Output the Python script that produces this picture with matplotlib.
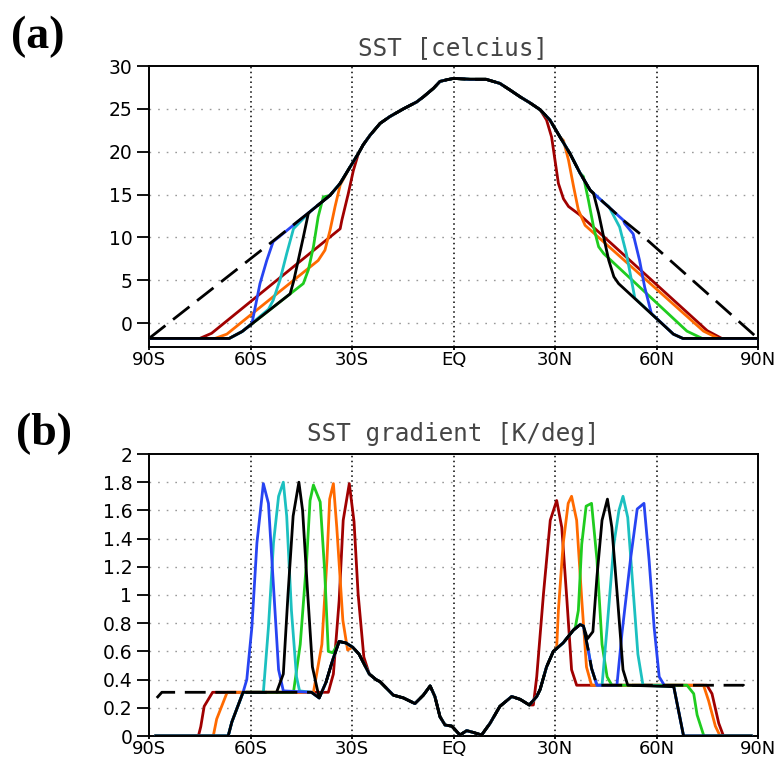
import numpy as np
import matplotlib
matplotlib.use("Agg")
import matplotlib.pyplot as plt

# ---------------- data: panel (a) SST [celcius] ----------------
env_lat = [-90, -54.2, -42.4, -36.5, -33.5, -30.6, -28.1, -26.7, -24.7, -21.7, -18.8, -14.8,
           -10.9, -8.9, -5.9, -4.0, -1.9, 0, 4.9, 9.6, 13.7, 16.7, 19.7, 22.6, 25.6, 28.5,
           31.5, 34.4, 37.4, 40.4, 44.3, 50.2, 56.1, 90]
env_sst = [-1.8, 9.3, 13.0, 14.9, 16.3, 18.2, 19.8, 20.8, 21.9, 23.3, 24.1, 25.0,
           25.8, 26.4, 27.4, 28.2, 28.4, 28.55, 28.45, 28.45, 27.97, 27.2, 26.4, 25.7, 24.9, 23.7,
           21.7, 19.8, 17.5, 15.5, 14.1, 12.0, 10.1, -1.8]

red_sh_lat = [-90, -75, -71.5, -33.5, -33.0, -31.1, -29.6, -28.1]
red_sh_sst = [-1.8, -1.8, -1.2, 11.0, 12.0, 15.1, 17.8, 19.8]
org_sh_lat = [-90, -70.5, -67, -40.0, -38.0, -36.5, -35.0, -33.5]
org_sh_sst = [-1.8, -1.8, -1.3, 7.3, 8.5, 10.8, 13.6, 16.1]
grn_sh_lat = [-90, -66.3, -62.5, -44.4, -42.9, -41.4, -40.0, -38.5]
grn_sh_sst = [-1.8, -1.8, -1.0, 4.6, 6.2, 8.9, 12.4, 14.7]
blk_sh_lat = [-90, -66.3, -62.5, -48.3, -47.3, -45.9, -44.4, -42.9]
blk_sh_sst = [-1.8, -1.8, -1.0, 3.4, 4.8, 7.3, 10.0, 12.8]
cyn_sh_lat = [-90, -66.3, -62.5, -54.7, -53.3, -51.3, -49.3, -47.3]
cyn_sh_sst = [-1.8, -1.8, -1.0, 1.6, 2.65, 5.0, 8.1, 11.0]
blu_sh_lat = [-90, -66.3, -62.5, -59.6, -57.2, -55.2, -53.3]
blu_sh_sst = [-1.8, -1.8, -1.0, -0.1, 4.6, 7.3, 9.5]

red_nh_lat = [25.6, 27.5, 29.0, 30.0, 31.0, 32.5, 34.0, 37.4, 75.0, 79.3, 90]
red_nh_sst = [24.9, 23.7, 21.7, 19.0, 16.3, 14.5, 13.6, 12.6, -0.9, -1.8, -1.8]
org_nh_lat = [32.5, 34.0, 35.5, 36.9, 38.9, 73.9, 78.3, 90]
org_nh_sst = [21.3, 19.0, 15.9, 13.2, 11.4, -0.95, -1.8, -1.8]
grn_nh_lat = [38.4, 39.9, 41.4, 42.9, 44.4, 69.0, 73.5, 90]
grn_nh_sst = [17.1, 14.3, 11.2, 8.9, 8.1, -0.95, -1.8, -1.8]
blk_nh_lat = [41.4, 42.9, 44.4, 45.9, 47.4, 48.8, 65.0, 67.8, 90]
blk_nh_sst = [15.1, 12.8, 10.0, 7.3, 5.4, 4.6, -1.3, -1.8, -1.8]
cyn_nh_lat = [45.9, 49.1, 51.1, 52.6, 53.6, 65.0, 67.8, 90]
cyn_nh_sst = [13.6, 11.2, 8.1, 5.0, 2.9, -1.3, -1.8, -1.8]
blu_nh_lat = [50.6, 53.1, 55.0, 56.5, 58.5, 65.0, 67.8, 90]
blu_nh_sst = [11.6, 10.4, 7.3, 4.2, 1.1, -1.3, -1.8, -1.8]

# ---------------- data: panel (b) SST gradient [K/deg] ----------------
core_lat = [-87.7, -86.2, -42.0, -39.7, -37.7, -35.7, -33.8, -31.8, -29.8, -27.9, -24.9, -22.9,
            -21.7, -17.8, -14.8, -11.4, -8.9, -6.9, -5.5, -4.0, -2.5, -0.5, 1.9, 3.9, 5.9, 8.3,
            10.8, 13.7, 17.2, 19.7, 22.4, 24.6, 25.6, 27.5, 29.5, 32.4, 35.4, 37.4, 38.4, 39.9,
            40.8, 42.4, 85.7, 87.4]
core_grd = [0.27, 0.31, 0.31, 0.27, 0.38, 0.54, 0.67, 0.66, 0.63, 0.58, 0.44, 0.40,
            0.385, 0.29, 0.27, 0.23, 0.29, 0.355, 0.28, 0.137, 0.078, 0.07, 0.007, 0.038, 0.025, 0.007,
            0.09, 0.21, 0.28, 0.26, 0.22, 0.28, 0.33, 0.49, 0.60, 0.66, 0.75, 0.79, 0.78, 0.60,
            0.48, 0.36, 0.36, 0.31]

red_sh_glat = [-88, -75.4, -74.7, -73.7, -71.2, -37.0, -35.5, -33.8, -32.6, -30.8, -29.4, -28.2, -26.5]
red_sh_grd = [0, 0, 0.066, 0.21, 0.31, 0.31, 0.44, 0.96, 1.53, 1.79, 1.52, 1.01, 0.56]
org_sh_glat = [-88, -71.0, -70.0, -66.9, -41.4, -38.9, -37.4, -36.6, -35.5, -34.5, -32.7, -31.3]
org_sh_grd = [0, 0, 0.12, 0.31, 0.31, 0.65, 1.25, 1.68, 1.79, 1.48, 0.82, 0.61]
grn_sh_glat = [-88, -66.6, -65.5, -62.2, -47.3, -45.3, -43.4, -42.4, -41.4, -39.4, -38.1, -37.0, -35.7]
grn_sh_grd = [0, 0, 0.1, 0.31, 0.31, 0.65, 1.25, 1.67, 1.78, 1.66, 1.18, 0.6, 0.59]
blk_sh_glat = [-88, -66.6, -65.5, -62.2, -52.3, -50.3, -48.9, -47.4, -45.7, -44.6, -43.1, -41.7]
blk_sh_grd = [0, 0, 0.1, 0.31, 0.31, 0.44, 1.01, 1.56, 1.80, 1.6, 1.01, 0.49]
cyn_sh_glat = [-88, -66.6, -65.5, -62.2, -56.2, -54.7, -53.2, -51.7, -50.3, -49.3, -47.9, -46.4, -45.5]
cyn_sh_grd = [0, 0, 0.1, 0.31, 0.31, 0.77, 1.37, 1.70, 1.80, 1.56, 0.89, 0.42, 0.32]
blu_sh_glat = [-88, -66.6, -65.5, -62.2, -61.1, -59.6, -58.1, -56.2, -54.7, -53.2, -51.7, -50.3]
blu_sh_grd = [0, 0, 0.1, 0.31, 0.40, 0.77, 1.37, 1.79, 1.65, 1.06, 0.47, 0.32]

red_nh_glat = [23.6, 24.6, 26.6, 28.6, 30.5, 32.0, 33.5, 34.9, 36.4, 74.9, 76.4, 78.4, 79.8, 88]
red_nh_grd = [0.22, 0.42, 1.01, 1.53, 1.67, 1.48, 0.97, 0.47, 0.36, 0.36, 0.3, 0.09, 0, 0]
org_nh_glat = [30.5, 31.0, 32.4, 33.9, 34.9, 36.4, 37.9, 39.3, 40.8, 73.9, 75.4, 77.4, 78.8, 88]
org_nh_grd = [0.63, 0.89, 1.36, 1.65, 1.70, 1.53, 0.97, 0.49, 0.36, 0.36, 0.25, 0.07, 0, 0]
grn_nh_glat = [36.0, 36.9, 37.9, 39.2, 40.8, 42.4, 43.9, 45.4, 46.8, 69.0, 71.0, 72.0, 74.0, 88]
grn_nh_grd = [0.77, 0.89, 1.36, 1.63, 1.65, 1.25, 0.65, 0.42, 0.36, 0.36, 0.3, 0.15, 0, 0]
blk_nh_glat = [39.6, 41.2, 42.4, 43.9, 45.5, 46.8, 48.5, 50.1, 51.5, 65.1, 68.0, 88]
blk_nh_grd = [0.69, 0.74, 1.13, 1.53, 1.68, 1.48, 0.97, 0.47, 0.36, 0.35, 0, 0]
cyn_nh_glat = [43.9, 45.4, 47.4, 48.9, 50.1, 51.5, 52.8, 54.5, 56.0, 65.1, 68.0, 88]
cyn_nh_grd = [0.36, 0.77, 1.36, 1.60, 1.70, 1.55, 1.13, 0.58, 0.36, 0.35, 0, 0]
blu_nh_glat = [48.3, 49.8, 52.3, 54.3, 56.3, 57.8, 59.3, 60.8, 62.3, 65.1, 68.0, 88]
blu_nh_grd = [0.36, 0.73, 1.25, 1.61, 1.65, 1.25, 0.77, 0.42, 0.36, 0.35, 0, 0]

x_ticks = [-90, -60, -30, 0, 30, 60, 90]
x_labels = ["90S", "60S", "30S", "EQ", "30N", "60N", "90N"]
sst_ticks = [0, 5, 10, 15, 20, 25, 30]
grd_ticks = [0, 0.2, 0.4, 0.6, 0.8, 1.0, 1.2, 1.4, 1.6, 1.8, 2.0]
grd_labels = ["0", "0.2", "0.4", "0.6", "0.8", "1", "1.2", "1.4", "1.6", "1.8", "2"]

C_RED = "#A00000"
C_ORG = "#FF6A00"
C_GRN = "#1FCC1F"
C_CYN = "#1CC0C0"
C_BLU = "#2744F2"
C_BLK = "#000000"


def build(sh_lat, sh_val, nh_lat, nh_val, c_lat, c_val):
    lo, hi = sh_lat[-1], nh_lat[0]
    mid = [(a, b) for a, b in zip(c_lat, c_val) if lo < a < hi]
    lat = list(sh_lat) + [m[0] for m in mid] + list(nh_lat)
    val = list(sh_val) + [m[1] for m in mid] + list(nh_val)
    return lat, val


W, H = 777, 760
fig = plt.figure(figsize=(W / 100, H / 100), dpi=100)

ax1 = fig.add_axes([149 / W, 1 - 347 / H, 609 / W, 281 / H])
ax2 = fig.add_axes([149 / W, 1 - 736 / H, 609 / W, 282 / H])

LW = 2.0
dash = (0, (7.5, 3.5))

# panel (a)
series_a = [
    (red_sh_lat, red_sh_sst, red_nh_lat, red_nh_sst, C_RED),
    (org_sh_lat, org_sh_sst, org_nh_lat, org_nh_sst, C_ORG),
    (grn_sh_lat, grn_sh_sst, grn_nh_lat, grn_nh_sst, C_GRN),
    (cyn_sh_lat, cyn_sh_sst, cyn_nh_lat, cyn_nh_sst, C_CYN),
    (blu_sh_lat, blu_sh_sst, blu_nh_lat, blu_nh_sst, C_BLU),
    (blk_sh_lat, blk_sh_sst, blk_nh_lat, blk_nh_sst, C_BLK),
]
for i, (sl, sv, nl, nv, c) in enumerate(series_a):
    la, va = build(sl, sv, nl, nv, env_lat, env_sst)
    ax1.plot(la, va, color=c, lw=LW, zorder=4 + i, solid_joinstyle="round")
ax1.plot(env_lat, env_sst, color=C_BLK, lw=LW, ls=dash, zorder=12)

# panel (b)
series_b = [
    (red_sh_glat, red_sh_grd, red_nh_glat, red_nh_grd, C_RED),
    (org_sh_glat, org_sh_grd, org_nh_glat, org_nh_grd, C_ORG),
    (grn_sh_glat, grn_sh_grd, grn_nh_glat, grn_nh_grd, C_GRN),
    (cyn_sh_glat, cyn_sh_grd, cyn_nh_glat, cyn_nh_grd, C_CYN),
    (blu_sh_glat, blu_sh_grd, blu_nh_glat, blu_nh_grd, C_BLU),
    (blk_sh_glat, blk_sh_grd, blk_nh_glat, blk_nh_grd, C_BLK),
]
for i, (sl, sv, nl, nv, c) in enumerate(series_b):
    la, va = build(sl, sv, nl, nv, core_lat, core_grd)
    ax2.plot(la, va, color=c, lw=LW, zorder=4 + i, solid_joinstyle="round")
ax2.plot(core_lat, core_grd, color=C_BLK, lw=LW, ls=dash, zorder=12)

for ax in (ax1, ax2):
    ax.set_xlim(-90, 90)
    ax.set_xticks(x_ticks)
    ax.set_xticklabels(x_labels)
    for x in x_ticks[1:-1]:
        ax.axvline(x, color="black", lw=1.1, ls=(0, (1, 2.2)), zorder=1)
    for s in ax.spines.values():
        s.set_linewidth(1.4)
        s.set_color("black")
    ax.tick_params(axis="y", direction="out", length=9, width=1.3, labelsize=13.5, pad=3)
    ax.tick_params(axis="x", direction="out", length=2.5, width=1.3, labelsize=13, pad=0.5)

ax1.set_ylim(-2.8, 30)
ax1.set_yticks(sst_ticks)
for y in sst_ticks[:-1]:
    ax1.axhline(y, color="#9a9a9a", lw=1.0, ls=(0, (1.2, 5)), zorder=1)

ax2.set_ylim(0, 2)
ax2.set_yticks(grd_ticks)
ax2.set_yticklabels(grd_labels)
for y in grd_ticks[1:-1]:
    ax2.axhline(y, color="#9a9a9a", lw=1.0, ls=(0, (1.2, 5)), zorder=1)

ax1.set_title("SST [celcius]", fontsize=17.5, color="#454545", pad=8,
              family="DejaVu Sans Mono")
ax2.set_title("SST gradient [K/deg]", fontsize=17.5, color="#454545", pad=9,
              family="DejaVu Sans Mono")

fig.text(11 / W, 1 - 37 / H, "(a)", fontsize=33, fontweight="bold",
         family="Liberation Serif", ha="left", va="center")
fig.text(16 / W, 1 - 434 / H, "(b)", fontsize=33, fontweight="bold",
         family="Liberation Serif", ha="left", va="center")

fig.savefig("out.png", dpi=100)
